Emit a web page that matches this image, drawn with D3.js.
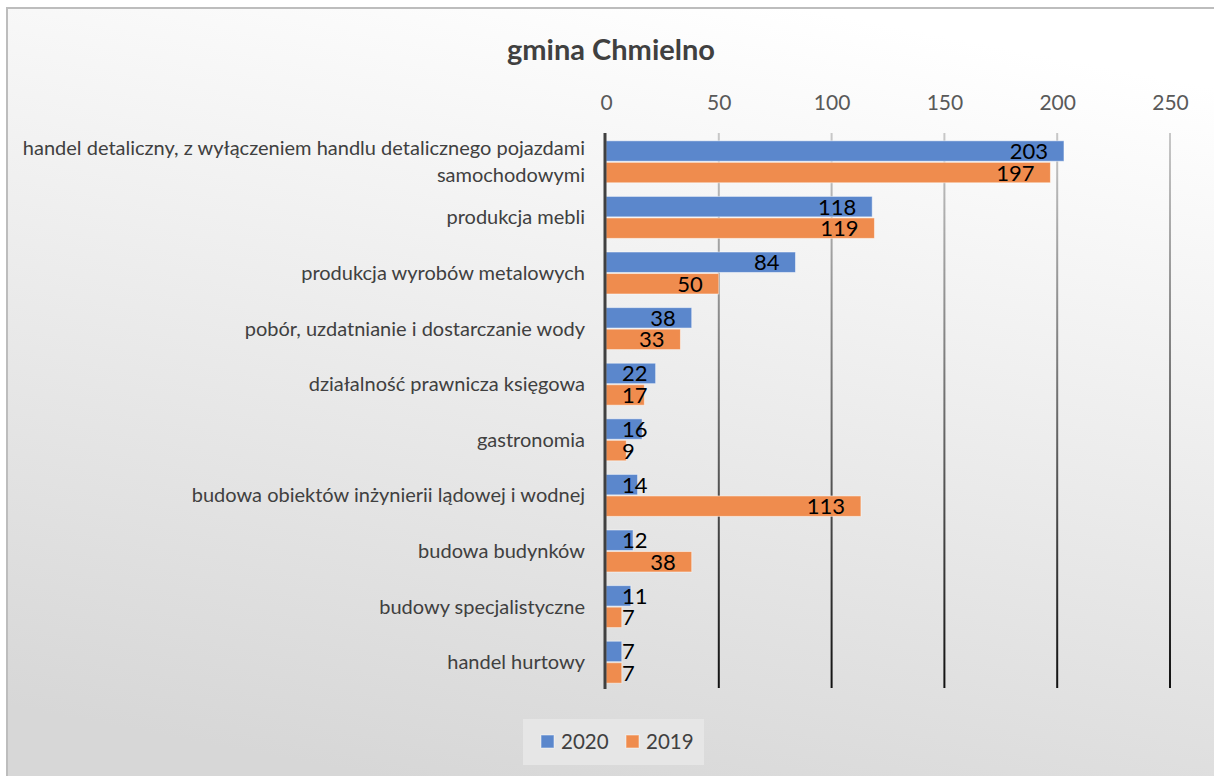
<!DOCTYPE html>
<html>
<head>
<meta charset="utf-8">
<script src="https://cdn.jsdelivr.net/npm/d3@7"></script>
<style>
body{margin:0;background:#fff;}
text{font-family:Lato,"Open Sans",sans-serif;}
</style>
</head>
<body>
<svg id="chart" width="1214" height="776"></svg>
<script>
// data
var categories=["handel detaliczny, z wyłączeniem handlu detalicznego pojazdami samochodowymi","produkcja mebli","produkcja wyrobów metalowych","pobór, uzdatnianie i dostarczanie wody","działalność prawnicza księgowa","gastronomia","budowa obiektów inżynierii lądowej i wodnej","budowa budynków","budowy specjalistyczne","handel hurtowy"];
var labelLines=[["handel detaliczny, z wyłączeniem handlu detalicznego pojazdami","samochodowymi"],["produkcja mebli"],["produkcja wyrobów metalowych"],["pobór, uzdatnianie i dostarczanie wody"],["działalność prawnicza księgowa"],["gastronomia"],["budowa obiektów inżynierii lądowej i wodnej"],["budowa budynków"],["budowy specjalistyczne"],["handel hurtowy"]];
var series=["2020","2019"];
var values2020=[203,118,84,38,22,16,14,12,11,7];
var values2019=[197,119,50,33,17,9,113,38,7,7];
var ticks=[0,50,100,150,200,250];
var colors={"2020":"#5b87cc","2019":"#ef8c4e"};

var svg=d3.select('#chart');
var defs=svg.append('defs');
var bg=defs.append('linearGradient').attr('id','bg')
    .attr('x1','0.65').attr('y1','0').attr('x2','0.35').attr('y2','1');
bg.append('stop').attr('offset','0').attr('stop-color','#ffffff');
bg.append('stop').attr('offset','1').attr('stop-color','#d7d7d7');
var gl=defs.append('linearGradient').attr('id','grid')
    .attr('gradientUnits','userSpaceOnUse')
    .attr('x1',0).attr('y1',133).attr('x2',0).attr('y2',688);
gl.append('stop').attr('offset','0').attr('stop-color','#c8c8c8');
gl.append('stop').attr('offset','1').attr('stop-color','#111111');

svg.append('rect').attr('x',7).attr('y',8).attr('width',1220).attr('height',780)
    .attr('fill','url(#bg)').attr('stroke','#bdbdbd').attr('stroke-width',2);

svg.append('text').attr('x',611).attr('y',60).attr('text-anchor','middle')
    .attr('font-size',29).attr('font-weight','bold').attr('fill','#404040')
    .text('gmina Chmielno');

var x=d3.scaleLinear().domain([0,250]).range([606,1170]);
var y=d3.scaleBand().domain(categories).range([134,690]).paddingInner(0.245).paddingOuter(0.1225);
var ys=d3.scaleBand().domain(series).range([0,y.bandwidth()]).paddingInner(0.05);

// top axis
var axis=d3.axisTop(x).tickValues(ticks).tickSize(0).tickPadding(0);
var ag=svg.append('g').attr('transform','translate(0,110)').call(axis);
ag.select('.domain').remove();
ag.selectAll('text').attr('font-size',21).attr('fill','#595959').attr('font-family','Lato,"Open Sans",sans-serif');

// gridlines
svg.append('g').selectAll('rect').data(ticks.slice(1)).enter().append('rect')
    .attr('x',function(d){return x(d)-1;}).attr('y',133)
    .attr('width',2).attr('height',555).attr('fill','url(#grid)');

// bars
var rows=categories.map(function(c,i){return {cat:c,vals:[{s:'2020',v:values2020[i]},{s:'2019',v:values2019[i]}]};});
var g=svg.append('g').selectAll('g').data(rows).enter().append('g')
    .attr('transform',function(d){return 'translate(0,'+y(d.cat)+')';});
g.selectAll('rect').data(function(d){return d.vals;}).enter().append('rect')
    .attr('x',x(0)).attr('y',function(d){return ys(d.s);})
    .attr('width',function(d){return x(d.v)-x(0);})
    .attr('height',ys.bandwidth())
    .attr('fill',function(d){return colors[d.s];})
    .attr('stroke','#ffffff').attr('stroke-opacity',0.5).attr('stroke-width',1);
g.selectAll('text').data(function(d){return d.vals;}).enter().append('text')
    .attr('y',function(d){return ys(d.s)+ys.bandwidth()/2+8;})
    .attr('font-size',22).attr('fill','#000')
    .text(function(d){return d.v;})
    .attr('x',function(d){
        var w=this.getComputedTextLength();
        return Math.max(x(d.v)-16-w,622);
    });

// axis line
svg.append('line').attr('x1',x(0)-1).attr('x2',x(0)-1).attr('y1',133).attr('y2',689)
    .attr('stroke','#404040').attr('stroke-width',3);

// category labels
var lab=svg.append('g').selectAll('text').data(categories).enter().append('text')
    .attr('text-anchor','end').attr('font-size',20).attr('fill','#404040')
    .attr('transform',function(d){return 'translate(585,'+(y(d)+y.bandwidth()/2)+')';});
lab.each(function(d,i){
    var lines=labelLines[i];
    var t=d3.select(this);
    lines.forEach(function(l,k){
        t.append('tspan').attr('x',0).attr('y',(k-(lines.length-1)/2)*27+7).text(l);
    });
});

// legend
var lg=svg.append('g');
lg.append('rect').attr('x',523).attr('y',719).attr('width',181).attr('height',46).attr('fill','#e6e6e6');
var lx=[541,626];
series.forEach(function(s,i){
    lg.append('rect').attr('x',lx[i]).attr('y',735).attr('width',13).attr('height',13)
        .attr('fill',colors[s]).attr('stroke','#fff').attr('stroke-opacity',0.5);
    lg.append('text').attr('x',lx[i]+20).attr('y',749).attr('font-size',20.5).attr('fill','#404040').text(s);
});
</script>
</body>
</html>
